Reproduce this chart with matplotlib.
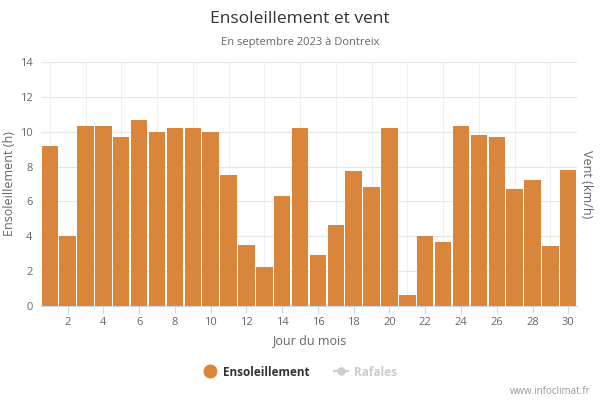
import matplotlib.pyplot as plt
from matplotlib.lines import Line2D

plt.rcParams['font.family'] = ['Open Sans', 'DejaVu Sans']

days = list(range(1, 31))
sunshine = [9.2, 4.0, 10.3, 10.3, 9.7, 10.65, 10.0, 10.2, 10.2, 10.0,
            7.5, 3.5, 2.25, 6.3, 10.2, 2.95, 4.65, 7.75, 6.8, 10.2,
            0.65, 4.0, 3.65, 10.3, 9.8, 9.7, 6.7, 7.25, 3.45, 7.8]
x_ticks = list(range(2, 31, 2))
y_ticks = list(range(0, 15, 2))

bar_color = '#d9853b'
text_grey = '#666666'

fig = plt.figure(figsize=(6, 4), dpi=100)
ax = fig.add_axes([0.068, 0.235, 0.894, 0.61])

ax.bar(days, sunshine, width=0.92, color=bar_color, zorder=2)

ax.set_xlim(0.5, 30.5)
ax.set_ylim(0, 14)
ax.set_xticks(x_ticks)
ax.set_yticks(y_ticks)
ax.set_xticks(days, minor=True)
ax.grid(True, axis='y', color='#e6e6e6', lw=0.8, zorder=0)
ax.grid(True, axis='x', which='minor', color='#eef0f3', lw=0.8, zorder=0)
ax.grid(False, axis='x', which='major')
for s in ['top', 'right', 'left']:
    ax.spines[s].set_visible(False)
ax.spines['bottom'].set_color('#ccd6eb')
ax.tick_params(axis='y', length=0, labelsize=8, labelcolor=text_grey, pad=6)
ax.tick_params(axis='x', which='major', length=5, color='#ccd6eb',
               labelsize=8, labelcolor=text_grey, pad=3)
ax.tick_params(axis='x', which='minor', length=0)

ax.set_xlabel('Jour du mois', fontsize=9, color=text_grey, labelpad=4)
fig.text(0.016, 0.54, 'Ensoleillement (h)', rotation=90, ha='center',
         va='center', fontsize=9, color=text_grey)
fig.text(0.978, 0.54, 'Vent (km/h)', rotation=-90, ha='center', va='center',
         fontsize=9, color=text_grey)

fig.text(0.5, 0.952, 'Ensoleillement et vent', ha='center', va='center',
         fontsize=12.5, color='#333333')
fig.text(0.5, 0.893, 'En septembre 2023 à Dontreix', ha='center', va='center',
         fontsize=8, color=text_grey)

handles = [
    Line2D([], [], marker='o', color='none', markerfacecolor=bar_color,
           markeredgecolor=bar_color, markersize=9),
    Line2D([], [], marker='o', color='#cccccc', markerfacecolor='#cccccc',
           markeredgecolor='#cccccc', markersize=5, lw=1.5),
]
leg = fig.legend(handles, ['Ensoleillement', 'Rafales'], loc='center',
                 bbox_to_anchor=(0.5, 0.07), ncol=2, frameon=False,
                 fontsize=8.5, handlelength=1.2, columnspacing=2.0,
                 handletextpad=0.5)
txts = leg.get_texts()
txts[0].set_color('#333333')
txts[0].set_fontweight('bold')
txts[1].set_color('#cccccc')
txts[1].set_fontweight('bold')

fig.text(0.985, 0.02, 'www.infoclimat.fr', ha='right', va='center',
         fontsize=7, color='#999999')

fig.savefig('out.png', dpi=100, facecolor='white')
